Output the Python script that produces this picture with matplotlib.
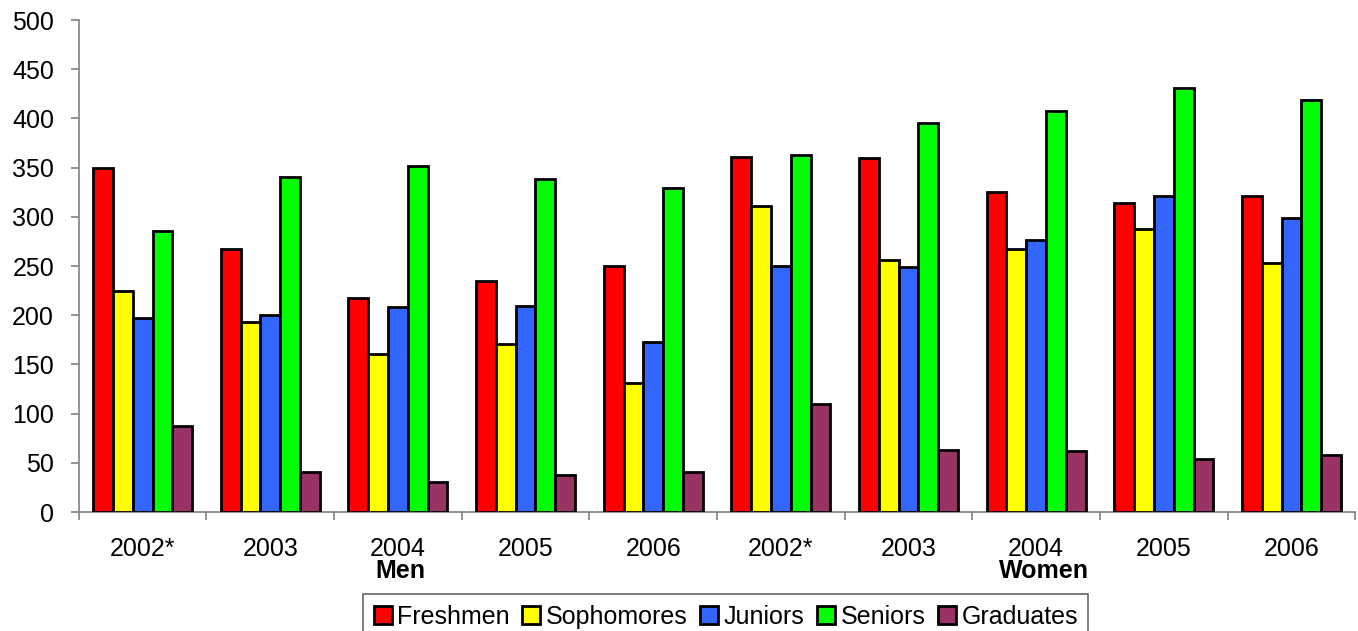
import matplotlib
matplotlib.use("Agg")
import matplotlib.pyplot as plt
import numpy as np

categories = ["2002*", "2003", "2004", "2005", "2006",
              "2002*", "2003", "2004", "2005", "2006"]
series_names = ["Freshmen", "Sophomores", "Juniors", "Seniors", "Graduates"]
freshmen   = [350, 267, 218, 235, 250, 361, 360, 325, 314, 321]
sophomores = [225, 193, 161, 171, 131, 311, 256, 267, 288, 253]
juniors    = [197, 200, 208, 209, 173, 250, 249, 276, 321, 299]
seniors    = [286, 341, 352, 338, 329, 363, 395, 408, 431, 419]
graduates  = [87, 41, 30, 38, 41, 110, 63, 62, 54, 58]
group_labels = ["Men", "Women"]

colors = ["#FF0000", "#FFFF00", "#3366FF", "#00FF00", "#993366"]
series = [freshmen, sophomores, juniors, seniors, graduates]

plt.rcParams['font.family'] = ['Liberation Sans', 'DejaVu Sans']
FS = 18

fig = plt.figure(figsize=(13.58, 6.31), dpi=100)
W, H = 1358, 631
ax_left, ax_right, ax_top, ax_bottom = 78.8, 1355.3, 20.1, 512.0
ax = fig.add_axes([ax_left / W, 1 - ax_bottom / H,
                   (ax_right - ax_left) / W, (ax_bottom - ax_top) / H])

n = len(categories)
x = np.arange(n) + 0.5
bw = 0.155
for k, (vals, c, name) in enumerate(zip(series, colors, series_names)):
    ax.bar(x + (k - 2) * bw, vals, width=bw, color=c, edgecolor="black",
           linewidth=2.0, label=name, zorder=3)

ax.set_xlim(0, n)
ax.set_ylim(0, 500)
ax.set_yticks(np.arange(0, 501, 50))
ax.set_xticks(np.arange(0, n + 1))
ax.set_xticklabels([])
ax.set_xticks(x, minor=True)
ax.set_xticklabels(categories, minor=True)

for s in ["top", "right"]:
    ax.spines[s].set_visible(False)
for s in ["left", "bottom"]:
    ax.spines[s].set_color("#808080")
    ax.spines[s].set_linewidth(1.2)

ax.tick_params(axis="both", which="major", direction="out", length=5.8,
               width=1.2, color="#808080", labelsize=FS)
ax.tick_params(axis="x", which="minor", length=0, labelsize=FS, pad=18)
ax.tick_params(axis="y", pad=12)

for lab, xc in zip(group_labels, [2.52, 7.56]):
    ax.text(xc, (ax_bottom - 571) / (ax_bottom - ax_top), lab,
            transform=ax.get_xaxis_transform(), ha="center", va="center",
            fontsize=FS, fontweight="bold")

leg = fig.legend(loc="upper left", bbox_to_anchor=(363.3 / W, 1 - 594.3 / H),
                 ncol=5, fontsize=FS, frameon=True, fancybox=False,
                 borderaxespad=0, borderpad=0.42, handlelength=0.72,
                 handleheight=0.72, handletextpad=0.22, columnspacing=0.5)
leg.get_frame().set_edgecolor("#404040")
leg.get_frame().set_linewidth(1.2)
for h in leg.legend_handles:
    h.set_linewidth(2.0)

fig.savefig("out.png", dpi=100)
